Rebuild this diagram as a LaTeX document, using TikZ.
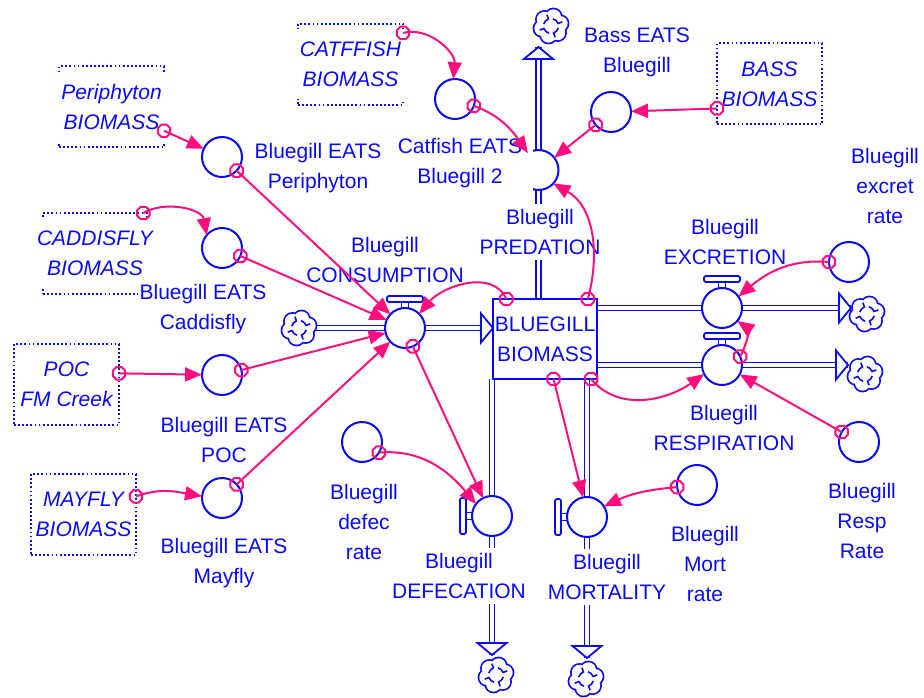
\documentclass[tikz,border=0pt]{standalone}
\usepackage{fontspec}
\setmainfont{Liberation Sans}
\usetikzlibrary{arrows.meta,shapes.geometric,calc}
\definecolor{vblue}{RGB}{10,10,250}
\definecolor{vpink}{RGB}{255,15,125}
\pgfdeclarelayer{bg}
\pgfsetlayers{bg,main}
\tikzset{
  pipeline/.style={draw=vblue, line width=1.8pt},
  pipe/.style={draw=vblue, line width=1.7pt, double=white, double distance=3.2pt},
  valve/.style={circle, draw=vblue, line width=2pt, fill=white, minimum size=40pt, inner sep=0pt, outer sep=0pt},
  aux/.style={valve},
  stockbox/.style={draw=vblue, line width=2.2pt, fill=white, minimum width=104pt, minimum height=80pt,
    inner sep=0pt, outer sep=0pt, align=center, text=vblue, font=\fontsize{21}{30}\selectfont},
  extbox/.style={draw=vblue, line width=2pt, dash pattern=on 1.8pt off 2.3pt,
    minimum width=105pt, minimum height=81pt, inner sep=0pt, outer sep=0pt},
  exttext/.style={fill=white, text=vblue, align=center, inner xsep=2pt, inner ysep=4pt,
    font=\fontsize{21}{30}\selectfont\itshape},
  lbl/.style={fill=white, text=vblue, align=center, inner xsep=2pt, inner ysep=5pt,
    font=\fontsize{21}{30}\selectfont},
  mk/.style={regular polygon, regular polygon sides=8, draw=vpink, line width=2pt,
    minimum size=13.5pt, inner sep=0pt, pos=0},
  conn/.style={draw=vpink, line width=2pt, -{Triangle[length=17pt, width=14pt]}},
  sinkcloud/.pic={
    \foreach \a in {15,75,...,315} \draw[vblue, line width=3.4pt] ({\a}:9.5) circle (7.5);
    \foreach \a in {15,75,...,315} \fill[white] ({\a}:9.5) circle (7.5);
    \fill[white] (0,0) circle (10);
    \foreach \a in {20,110,200,290} {
      \draw[pipeline, line width=1.6pt] ({\a}:12) -- ({\a}:7.5) arc[start angle=\a, delta angle=55, radius=7.5];
    }
  },
  pipehead/.pic={
    \draw[pipeline, fill=white, line join=miter] (0,0) -- (-12,14.5) -- (-12,-14.5) -- cycle;
  },
  valvetop/.pic={
    \draw[pipeline] (-3.5,19.6) -- (-3.5,26) (3.5,19.6) -- (3.5,26);
    \draw[pipeline, fill=white, rounded corners=2pt] (-18,26) rectangle (18,32);
  }
}
\begin{document}
\begin{tikzpicture}[x=1pt,y=1pt]
\useasboundingbox (0,0) rectangle (924,-698);

% cloud centres and pipe end points
\coordinate (cIn) at (299,-328);
\coordinate (cPr) at (551,-26);
\coordinate (cEx) at (867,-314);
\coordinate (cRs) at (865,-374);
\coordinate (cDf) at (496,-675);
\coordinate (cMt) at (586,-679);
\coordinate (exTip) at (851,-308);
\coordinate (rsTip) at (848,-365);
\coordinate (prTip) at (538.5,-47);
\coordinate (dfTip) at (492,-655);
\coordinate (mtTip) at (587,-658);

% stock
\node[stockbox] (stock) at (545,-339) {BLUEGILL\\BIOMASS};

% flow valves
\node[valve] (cons) at (405,-328) {};
\node[valve] (pred) at (538.5,-170) {};
\node[valve] (excr) at (722,-308) {};
\node[valve] (resp) at (722,-365) {};
\node[valve] (defe) at (492,-516) {};
\node[valve] (mort) at (587,-517) {};

% auxiliaries
\node[aux] (pA) at (222,-157) {};
\node[aux] (cA) at (222,-248) {};
\node[aux] (poA) at (222,-375) {};
\node[aux] (mA) at (222,-498) {};
\node[aux] (catA) at (455,-99) {};
\node[aux] (bassA) at (611,-112) {};
\node[aux] (exA) at (849,-262) {};
\node[aux] (respA) at (859,-442) {};
\node[aux] (defA) at (362,-442) {};
\node[aux] (mortA) at (697,-485) {};

% shadow variables (dotted boxes)
\node[extbox] (per) at (111.5,-107) {};
\node[extbox] (cat) at (350.5,-64.5) {};
\node[extbox] (bass) at (769.5,-84) {};
\node[extbox, minimum width=104pt] (cad) at (95,-253.5) {};
\node[extbox] (poc) at (66.5,-384.5) {};
\node[extbox] (may) at (83.5,-514.5) {};
\node[exttext, minimum width=110pt, minimum height=70pt] at (per) {Periphyton\\BIOMASS};
\node[exttext, minimum width=110pt, minimum height=70pt] at (cat) {CATFFISH\\BIOMASS};
\node[exttext] at (bass) {BASS\\BIOMASS};
\node[exttext, minimum width=110pt, minimum height=70pt] at (cad) {CADDISFLY\\BIOMASS};
\node[exttext] at (poc) {POC\\FM Creek};
\node[exttext] at (may) {MAYFLY\\BIOMASS};

% pipes
\begin{pgfonlayer}{bg}
\draw[pipe] (cIn) -- (cons) -- (cons -| stock.west);
\draw[pipe] (excr -| stock.east) -- (excr) -- (exTip);
\draw[pipe] (resp -| stock.east) -- (resp) -- (rsTip);
\draw[pipe] (pred |- stock.north) -- (pred) -- (prTip);
\draw[pipe] (defe |- stock.south) -- (defe) -- (dfTip);
\draw[pipe] (mort |- stock.south) -- (mort) -- (mtTip);
\end{pgfonlayer}

% valve handles
\pic at (cons) {valvetop};
\pic at (excr) {valvetop};
\pic at (resp) {valvetop};
\pic[rotate=90] at (defe) {valvetop};
\pic[rotate=90] at (mort) {valvetop};

% pipe arrow heads and clouds
\pic at (cons -| stock.west) {pipehead};
\pic at (exTip) {pipehead};
\pic at (rsTip) {pipehead};
\pic[rotate=90] at (prTip) {pipehead};
\pic[rotate=-90] at (dfTip) {pipehead};
\pic[rotate=-90] at (mtTip) {pipehead};
\pic at (cIn) {sinkcloud};
\pic at (cPr) {sinkcloud};
\pic at (cEx) {sinkcloud};
\pic at (cRs) {sinkcloud};
\pic at (cDf) {sinkcloud};
\pic at (cMt) {sinkcloud};

% labels
\node[lbl] at (318,-168) {Bluegill EATS\\Periphyton};
\node[lbl] at (203,-309) {Bluegill EATS\\Caddisfly};
\node[lbl] at (224,-440) {Bluegill EATS\\POC};
\node[lbl] at (224,-563) {Bluegill EATS\\Mayfly};
\node[lbl, inner xsep=11pt] at (460,-163) {Catfish EATS\\Bluegill 2};
\node[lbl] at (637,-52) {Bass EATS\\Bluegill};
\node[lbl] at (385,-260) {Bluegill\\CONSUMPTION};
\node[lbl] at (540,-232) {Bluegill\\PREDATION};
\node[lbl] at (725,-242) {Bluegill\\EXCRETION};
\node[lbl] at (724,-428) {Bluegill\\RESPIRATION};
\node[lbl] at (885,-186) {Bluegill\\excret\\rate};
\node[lbl] at (862,-521) {Bluegill\\Resp\\Rate};
\node[lbl] at (364,-522) {Bluegill\\defec\\rate};
\node[lbl] at (705,-564) {Bluegill\\Mort\\rate};
\node[lbl] at (459,-576) {Bluegill\\DEFECATION};
\node[lbl] at (607,-577) {Bluegill\\MORTALITY};

% information links
\draw[conn] (per) -- node[mk]{} (pA);
\draw[conn] (cat.31) to[out=15, in=85] node[mk]{} (catA.95);
\draw[conn] (catA.-20) to[out=-20, in=125] node[mk]{} (pred.122);
\draw[conn] (bass.205) -- node[mk]{} (bassA);
\draw[conn] (bassA.220) -- node[mk]{} (pred.38);
\draw[conn] (stock.43) to[out=75, in=-30] node[mk]{} (pred.-42);
\draw[conn] (pA) -- node[mk]{} (cons);
\draw[conn] (cad.40) to[out=30, in=100] node[mk]{} (cA.140);
\draw[conn] (cA) -- node[mk]{} (cons);
\draw[conn] (poc.12) -- node[mk]{} (poA);
\draw[conn] (poA) -- node[mk]{} (cons);
\draw[conn] (may.19) to[out=20, in=170] node[mk]{} (mA.175);
\draw[conn] (mA) -- node[mk]{} (cons);
\draw[conn] (stock.134) to[out=115, in=50] node[mk]{} (cons.45);
\draw[conn] (cons.-67) -- node[mk]{} (defe.117);
\draw[conn] (defA.-32) to[out=5, in=130] node[mk]{} (defe.143);
\draw[conn] (stock.-78) -- node[mk]{} (mort.101);
\draw[conn] (mortA.186) to[out=185, in=25] node[mk]{} (mort.32);
\draw[conn] (exA.180) to[out=175, in=40] node[mk]{} (excr.35);
\draw[conn] (stock.-41) to[out=-50, in=215] node[mk]{} (resp.207);
\draw[conn] (respA.150) -- node[mk]{} (resp.-28);
\draw[conn] (resp.25) to[out=60, in=-35] node[mk]{} (excr.-40);
\end{tikzpicture}
\end{document}
